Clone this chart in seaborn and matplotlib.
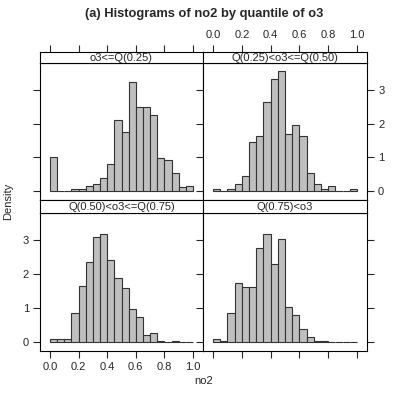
import numpy as np
import pandas as pd
import matplotlib
matplotlib.use('Agg')
import matplotlib.pyplot as plt
import seaborn as sns

# bin edges for no2 (width 0.05 from 0 to 1)
edges = [round(0.05 * i, 2) for i in range(21)]
centers = [round((edges[i] + edges[i + 1]) / 2, 3) for i in range(20)]

# densities
dens_q1 = [1.00, 0, 0, 0.06, 0.06, 0.16, 0.22, 0.38, 0.81, 2.11,
           1.76, 3.25, 2.49, 2.49, 2.27, 0.99, 0.93, 0.55, 0.11, 0.16]
dens_q2 = [0.05, 0, 0.05, 0.22, 0.44, 1.47, 1.63, 2.66, 3.34, 3.56,
           1.70, 1.98, 1.63, 0.55, 0.22, 0.05, 0.16, 0, 0, 0.05]
dens_q3 = [0.11, 0.11, 0.11, 0.87, 1.66, 2.36, 3.08, 3.19, 2.42, 1.89,
           1.59, 0.99, 0.75, 0.23, 0.28, 0.05, 0, 0.05, 0, 0]
dens_q4 = [0.11, 0.05, 0.86, 1.73, 1.62, 1.62, 2.78, 3.19, 2.31, 3.02,
           1.04, 0.81, 0.39, 0.17, 0.05, 0.05, 0, 0, 0, 0]

strip_labels = ['o3<=Q(0.25)', 'Q(0.25)<o3<=Q(0.50)',
                'Q(0.50)<o3<=Q(0.75)', 'Q(0.75)<o3']
x_ticks = [0.0, 0.2, 0.4, 0.6, 0.8, 1.0]
y_ticks = [0, 1, 2, 3]

sns.set_style('white')
plt.rcParams['font.family'] = ['Liberation Sans', 'DejaVu Sans']

W, H = 399, 399
fig = plt.figure(figsize=(W / 100, H / 100), dpi=100)


def rect(x0, y0, x1, y1):
    return [x0 / W, 1 - y1 / H, (x1 - x0) / W, (y1 - y0) / H]


ymax = max(max(dens_q1), max(dens_q2), max(dens_q3), max(dens_q4))
xlim = (-0.07, 1.07)
ylim = (-0.07 * ymax, 1.07 * ymax)

# (panel rect, strip rect, data, label, which sides get labels)
layout = [
    ((40, 63, 203, 199.5), (40, 51.5, 203, 63), dens_q1, strip_labels[0], 'tl'),
    ((203, 63, 367, 199.5), (203, 51.5, 367, 63), dens_q2, strip_labels[1], 'tr'),
    ((40, 212.5, 203, 351), (40, 199.5, 203, 212.5), dens_q3, strip_labels[2], 'bl'),
    ((203, 212.5, 367, 351), (203, 199.5, 367, 212.5), dens_q4, strip_labels[3], 'br'),
]

for prect, srect, dens, lab, pos in layout:
    ax = fig.add_axes(rect(*prect))
    df = pd.DataFrame({'no2': centers, 'density': dens})
    sns.histplot(data=df, x='no2', weights='density', bins=edges,
                 stat='count', color='#bfbfbf', edgecolor='#333333',
                 linewidth=0.8, alpha=1, ax=ax)
    ax.set_xlim(xlim)
    ax.set_ylim(ylim)
    ax.set_xlabel('')
    ax.set_ylabel('')
    for sp in ax.spines.values():
        sp.set_color('black')
        sp.set_linewidth(0.8)
        sp.set_visible(True)
    ax.set_yticks(y_ticks)
    ax.tick_params(axis='y', left=True, right=True, direction='out',
                   length=5, width=0.8, labelsize=8, pad=3,
                   labelleft=(pos == 'bl'), labelright=(pos == 'tr'))
    if pos[0] == 'b':
        ax.set_xticks(x_ticks)
        ax.set_xticklabels(['%.1f' % t for t in x_ticks])
        ax.tick_params(axis='x', bottom=True, top=False, direction='out',
                       length=5, width=0.8, labelsize=8, pad=3,
                       labelbottom=(pos == 'bl'))
    else:
        ax.set_xticks([])

    # strip on top of each panel
    sx = fig.add_axes(rect(*srect))
    sx.set_xlim(xlim)
    sx.set_yticks([])
    sx.set_facecolor('white')
    for sp in sx.spines.values():
        sp.set_color('black')
        sp.set_linewidth(0.8)
    sx.text(0.5, 0.45, lab, transform=sx.transAxes, ha='center',
            va='center', fontsize=8)
    if pos[0] == 't':
        sx.set_xticks(x_ticks)
        sx.set_xticklabels(['%.1f' % t for t in x_ticks])
        sx.tick_params(axis='x', bottom=False, top=True, direction='out',
                       length=5, width=0.8, labelsize=8, pad=3,
                       labelbottom=False, labeltop=(pos == 'tr'))
    else:
        sx.set_xticks([])

fig.text(204 / W, 1 - 14 / H, '(a) Histograms of no2 by quantile of o3',
         ha='center', va='center', fontsize=9.3, fontweight='bold')
fig.text(8 / W, 1 - 201 / H, 'Density', rotation=90, ha='center',
         va='center', fontsize=8)
fig.text(204 / W, 1 - 381 / H, 'no2', ha='center', va='center', fontsize=8)

fig.savefig('out.png', dpi=100)
